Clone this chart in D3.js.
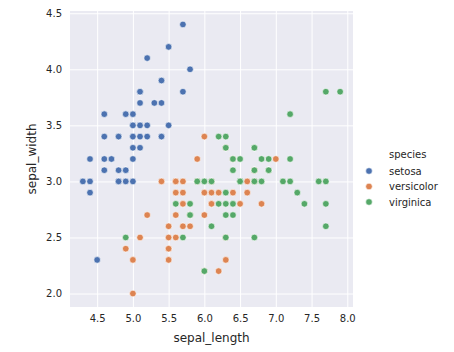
<!DOCTYPE html>
<html>
<head>
<meta charset="utf-8">
<script src="https://cdn.jsdelivr.net/npm/d3@7"></script>
<style>
  body { margin: 0; background: #fff; }
  svg { font-family: "DejaVu Sans", sans-serif; }
</style>
</head>
<body>
<svg width="454" height="352"></svg>
<script>
var species = ["setosa", "versicolor", "virginica"];
var colors = ["#4c72b0", "#dd8452", "#55a868"];

var setosaX = [5.1,4.9,4.7,4.6,5.0,5.4,4.6,5.0,4.4,4.9,5.4,4.8,4.8,4.3,5.8,5.7,5.4,5.1,5.7,5.1,
               5.4,5.1,4.6,5.1,4.8,5.0,5.0,5.2,5.2,4.7,4.8,5.4,5.2,5.5,4.9,5.0,5.5,4.9,4.4,5.1,
               5.0,4.5,4.4,5.0,5.1,4.8,5.1,4.6,5.3,5.0];
var setosaY = [3.5,3.0,3.2,3.1,3.6,3.9,3.4,3.4,2.9,3.1,3.7,3.4,3.0,3.0,4.0,4.4,3.9,3.5,3.8,3.8,
               3.4,3.7,3.6,3.3,3.4,3.0,3.4,3.5,3.4,3.2,3.1,3.4,4.1,4.2,3.1,3.2,3.5,3.6,3.0,3.4,
               3.5,2.3,3.2,3.5,3.8,3.0,3.8,3.2,3.7,3.3];

var versicolorX = [7.0,6.4,6.9,5.5,6.5,5.7,6.3,4.9,6.6,5.2,5.0,5.9,6.0,6.1,5.6,6.7,5.6,5.8,6.2,5.6,
                   5.9,6.1,6.3,6.1,6.4,6.6,6.8,6.7,6.0,5.7,5.5,5.5,5.8,6.0,5.4,6.0,6.7,6.3,5.6,5.5,
                   5.5,6.1,5.8,5.0,5.6,5.7,5.7,6.2,5.1,5.7];
var versicolorY = [3.2,3.2,3.1,2.3,2.8,2.8,3.3,2.4,2.9,2.7,2.0,3.0,2.2,2.9,2.9,3.1,3.0,2.7,2.2,2.5,
                   3.2,2.8,2.5,2.8,2.9,3.0,2.8,3.0,2.9,2.6,2.4,2.4,2.7,2.7,3.0,3.4,3.1,2.3,3.0,2.5,
                   2.6,3.0,2.6,2.3,2.7,3.0,2.9,2.9,2.5,2.8];

var virginicaX = [6.3,5.8,7.1,6.3,6.5,7.6,4.9,7.3,6.7,7.2,6.5,6.4,6.8,5.7,5.8,6.4,6.5,7.7,7.7,6.0,
                  6.9,5.6,7.7,6.3,6.7,7.2,6.2,6.1,6.4,7.2,7.4,7.9,6.4,6.3,6.1,7.7,6.3,6.4,6.0,6.9,
                  6.7,6.9,5.8,6.8,6.7,6.7,6.3,6.5,6.2,5.9];
var virginicaY = [3.3,2.7,3.0,2.9,3.0,3.0,2.5,2.9,2.5,3.6,3.2,2.7,3.0,2.5,2.8,3.2,3.0,3.8,2.6,2.2,
                  3.2,2.8,2.8,2.7,3.3,3.2,2.8,3.0,2.8,3.0,2.8,3.8,2.8,2.8,2.6,3.0,3.4,3.1,3.0,3.1,
                  3.1,3.1,2.7,3.2,3.3,3.0,2.5,3.0,3.4,3.0];

var xTicks = [4.5, 5.0, 5.5, 6.0, 6.5, 7.0, 7.5, 8.0];
var yTicks = [2.0, 2.5, 3.0, 3.5, 4.0, 4.5];

var seriesX = [setosaX, versicolorX, virginicaX];
var seriesY = [setosaY, versicolorY, virginicaY];

var svg = d3.select("svg");

var pLeft = 70, pRight = 353, pTop = 11, pBottom = 307;

var x = d3.scaleLinear().domain([4.12, 8.08]).range([pLeft, pRight]);
var y = d3.scaleLinear().domain([1.88, 4.52]).range([pBottom, pTop]);

svg.append("rect")
    .attr("x", pLeft)
    .attr("y", pTop)
    .attr("width", pRight - pLeft)
    .attr("height", pBottom - pTop)
    .attr("fill", "#eaeaf2");

// grid
var xAxis = svg.append("g")
    .attr("transform", "translate(0," + pBottom + ")")
    .call(d3.axisBottom(x).tickValues(xTicks).tickFormat(d3.format(".1f"))
          .tickSize(-(pBottom - pTop)).tickPadding(8));
var yAxis = svg.append("g")
    .attr("transform", "translate(" + pLeft + ",0)")
    .call(d3.axisLeft(y).tickValues(yTicks).tickFormat(d3.format(".1f"))
          .tickSize(-(pRight - pLeft)).tickPadding(8));

[xAxis, yAxis].forEach(function(g) {
    g.select(".domain").remove();
    g.selectAll(".tick line").attr("stroke", "#fff").attr("stroke-width", 1);
    g.selectAll(".tick text")
        .attr("fill", "#262626")
        .attr("font-size", "10px")
        .attr("font-family", "DejaVu Sans, sans-serif");
});

// points
var points = [];
species.forEach(function(s, k) {
    seriesX[k].forEach(function(v, i) {
        points.push({ x: v, y: seriesY[k][i], k: k });
    });
});

svg.append("g")
    .selectAll("circle")
    .data(points)
    .enter()
    .append("circle")
    .attr("cx", function(d) { return x(d.x); })
    .attr("cy", function(d) { return y(d.y); })
    .attr("r", 3.3)
    .attr("fill", function(d) { return colors[d.k]; })
    .attr("stroke", "#fff")
    .attr("stroke-width", 0.6);

// axis labels
svg.append("text")
    .attr("x", (pLeft + pRight) / 2)
    .attr("y", 342)
    .attr("text-anchor", "middle")
    .attr("font-size", "12px")
    .attr("fill", "#262626")
    .text("sepal_length");

svg.append("text")
    .attr("transform", "translate(36," + (pTop + pBottom) / 2 + ") rotate(-90)")
    .attr("text-anchor", "middle")
    .attr("font-size", "12px")
    .attr("fill", "#262626")
    .text("sepal_width");

// legend
var legend = svg.append("g");
legend.append("text")
    .attr("x", 389)
    .attr("y", 158)
    .attr("font-size", "10px")
    .attr("fill", "#262626")
    .text("species");

var items = legend.selectAll("g.item")
    .data(species)
    .enter()
    .append("g")
    .attr("class", "item")
    .attr("transform", function(d, i) { return "translate(0," + (171 + i * 15.5) + ")"; });

items.append("circle")
    .attr("cx", 369)
    .attr("cy", 0)
    .attr("r", 3.3)
    .attr("fill", function(d, i) { return colors[i]; })
    .attr("stroke", "#fff")
    .attr("stroke-width", 0.6);

items.append("text")
    .attr("x", 389)
    .attr("y", 3.5)
    .attr("font-size", "10px")
    .attr("fill", "#262626")
    .text(function(d) { return d; });
</script>
</body>
</html>
